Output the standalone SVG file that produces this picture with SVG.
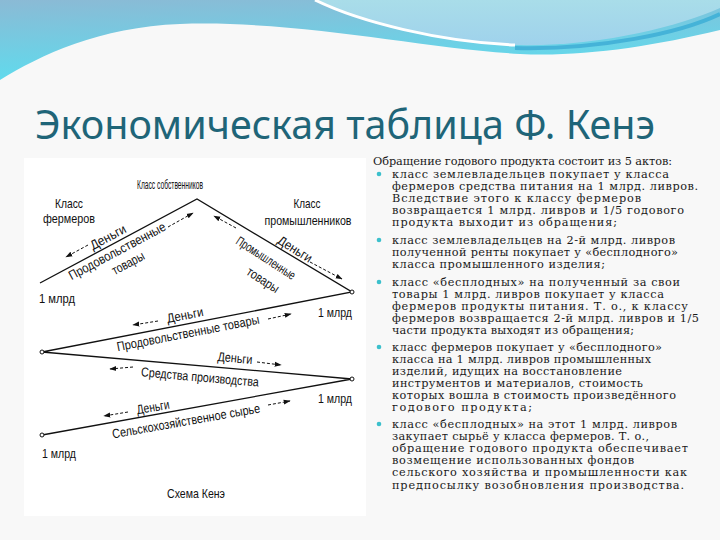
<svg xmlns="http://www.w3.org/2000/svg" width="720" height="540" viewBox="0 0 720 540">
<defs>
<linearGradient id="gBlue" x1="0" y1="0" x2="0.25" y2="1">
<stop offset="0" stop-color="#8bbad5"/>
<stop offset="1" stop-color="#5edcee"/>
</linearGradient>
<linearGradient id="gBubble" x1="0" y1="0" x2="0" y2="1">
<stop offset="0" stop-color="#a9dde9"/>
<stop offset="1" stop-color="#9fd2ec"/>
</linearGradient>
<marker id="ah" viewBox="0 0 10 10" refX="9" refY="5" markerWidth="7" markerHeight="7" orient="auto" markerUnits="userSpaceOnUse">
<path d="M0,1.5 L10,5 L0,8.5 Z" fill="#111"/>
</marker>
<style>
.lbl{font-family:"Liberation Sans Narrow","Liberation Sans",Arial,sans-serif;font-size:13px;fill:#111;text-anchor:middle}
.lbs{font-family:"Liberation Sans Narrow","Liberation Sans",Arial,sans-serif;font-size:13px;fill:#111}
.main{stroke:#111;stroke-width:1.3;fill:none}
.arr{stroke:#111;stroke-width:1;stroke-dasharray:3 2;fill:none;marker-end:url(#ah)}
.pt{fill:#fff;stroke:#111;stroke-width:1}
.txt{font-family:"DejaVu Serif","Liberation Serif",serif;font-size:11.3px;fill:#1a1a1a}
.bul{fill:#3cc0cc}
</style>
</defs>
<rect width="720" height="540" fill="#f8f8f8"/>
<g id="header">
<path d="M0,0 H720 V30 C650,47 580,57 520,54 C420,48 300,20 180,24 C100,27 40,55 0,80 Z" fill="url(#gBlue)"/>
<path d="M315,0 C360,22 440,42 515,45 C600,47 680,26 720,8 V0 Z" fill="url(#gBubble)"/>
<path d="M315,0 C360,22 440,42 515,45" stroke="#fff" stroke-width="3" fill="none"/>
<path d="M515,48 C600,50 680,33 720,14" stroke="#45b3d8" stroke-width="4" fill="none"/>
</g>
<text id="title" x="35" y="139" font-family="'Noto Sans','Open Sans',sans-serif" font-size="40" fill="#1f6578" textLength="620" lengthAdjust="spacingAndGlyphs">Экономическая таблица Ф. Кенэ</text>
<rect id="panel" x="24" y="158" width="342" height="358" fill="#ffffff"/>
<g id="connectors">
<path class="main" d="M40,283 L197,199 L352,292 L42,352 L352,379 L42,435"/>
<path class="arr" d="M88,245 L66,257"/>
<path class="arr" d="M168,227 L193,213"/>
<path class="arr" d="M236,228 L214,216"/>
<path class="arr" d="M310,262 L342,279"/>
<path class="arr" d="M158,321 L133,325"/>
<path class="arr" d="M268,319 L291,314"/>
<path class="arr" d="M257,362 L281,365"/>
<path class="arr" d="M133,367 L110,369"/>
<path class="arr" d="M128,412 L104,416"/>
<path class="arr" d="M268,405 L290,401"/>
<circle class="pt" cx="352" cy="292" r="2"/>
<circle class="pt" cx="42" cy="352" r="2"/>
<circle class="pt" cx="352" cy="379" r="2"/>
<circle class="pt" cx="42" cy="435" r="2"/>
</g>
<g id="owners"><text class="lbl" x="170" y="189" textLength="66" lengthAdjust="spacingAndGlyphs">Класс собственников</text></g>
<g id="farmers">
<text class="lbl" x="69" y="208" textLength="28" lengthAdjust="spacingAndGlyphs">Класс</text>
<text class="lbl" x="69" y="223" textLength="52" lengthAdjust="spacingAndGlyphs">фермеров</text>
</g>
<g id="industrialists">
<text class="lbl" x="307" y="208" textLength="27" lengthAdjust="spacingAndGlyphs">Класс</text>
<text class="lbl" x="308" y="225" textLength="87" lengthAdjust="spacingAndGlyphs">промышленников</text>
</g>
<g id="flow-labels">
<text class="lbl" transform="translate(108,237) rotate(-28)" y="4.5" textLength="39" lengthAdjust="spacingAndGlyphs">Деньги</text>
<text class="lbl" transform="translate(117,251) rotate(-28)" y="4.5" textLength="108" lengthAdjust="spacingAndGlyphs">Продовольственные</text>
<text class="lbl" transform="translate(128,263) rotate(-28)" y="4.5" textLength="35" lengthAdjust="spacingAndGlyphs">товары</text>
<text class="lbl" transform="translate(266,258) rotate(33)" y="4.5" textLength="68" lengthAdjust="spacingAndGlyphs">Промышленные</text>
<text class="lbl" transform="translate(263,280) rotate(33)" y="4.5" textLength="36" lengthAdjust="spacingAndGlyphs">товары</text>
<text class="lbl" transform="translate(295,249) rotate(32)" y="4.5" textLength="38" lengthAdjust="spacingAndGlyphs">Деньги</text>
<text class="lbl" transform="translate(185,315) rotate(-11)" y="4.5" textLength="37" lengthAdjust="spacingAndGlyphs">Деньги</text>
<text class="lbl" transform="translate(188,333) rotate(-11)" y="4.5" textLength="145" lengthAdjust="spacingAndGlyphs">Продовольственные товары</text>
<text class="lbl" transform="translate(235,358) rotate(5)" y="4.5" textLength="35" lengthAdjust="spacingAndGlyphs">Деньги</text>
<text class="lbl" transform="translate(200,377) rotate(5)" y="4.5" textLength="118" lengthAdjust="spacingAndGlyphs">Средства производства</text>
<text class="lbl" transform="translate(153,407) rotate(-10)" y="4.5" textLength="33" lengthAdjust="spacingAndGlyphs">Деньги</text>
<text class="lbl" transform="translate(186,421) rotate(-10)" y="4.5" textLength="150" lengthAdjust="spacingAndGlyphs">Сельскохозяйственное сырье</text>
</g>
<g id="amounts">
<text class="lbs" x="39" y="303" textLength="36" lengthAdjust="spacingAndGlyphs">1 млрд</text>
<text class="lbs" x="318" y="317" textLength="34" lengthAdjust="spacingAndGlyphs">1 млрд</text>
<text class="lbs" x="318" y="403" textLength="34" lengthAdjust="spacingAndGlyphs">1 млрд</text>
<text class="lbs" x="42" y="458" textLength="34" lengthAdjust="spacingAndGlyphs">1 млрд</text>
</g>
<g id="caption"><text class="lbl" x="196" y="498" textLength="58" lengthAdjust="spacingAndGlyphs">Схема Кенэ</text></g>
<g id="description">
<text class="txt" x="373" y="165" textLength="299">Обращение годового продукта состоит из 5 актов:</text>
<circle class="bul" cx="379" cy="174" r="2.3"/>
<text class="txt" x="392" y="178" textLength="277">класс землевладельцев покупает у класса</text>
<text class="txt" x="392" y="190" textLength="306">фермеров средства питания на 1 млрд. ливров.</text>
<text class="txt" x="392" y="202" textLength="249">Вследствие этого к классу фермеров</text>
<text class="txt" x="392" y="214" textLength="292">возвращается 1 млрд. ливров и 1/5 годового</text>
<text class="txt" x="392" y="226" textLength="225">продукта выходит из обращения;</text>
<circle class="bul" cx="379" cy="240" r="2.3"/>
<text class="txt" x="392" y="244" textLength="283">класс землевладельцев на 2-й млрд. ливров</text>
<text class="txt" x="392" y="256" textLength="286">полученной ренты покупает у «бесплодного»</text>
<text class="txt" x="392" y="268" textLength="213">класса промышленного изделия;</text>
<circle class="bul" cx="379" cy="282" r="2.3"/>
<text class="txt" x="392" y="286" textLength="288">класс «бесплодных» на полученный за свои</text>
<text class="txt" x="392" y="298" textLength="272">товары 1 млрд. ливров покупает у класса</text>
<text class="txt" x="392" y="310" textLength="296">фермеров продукты питания. Т. о., к классу</text>
<text class="txt" x="392" y="322" textLength="307">фермеров возвращается 2-й млрд. ливров и 1/5</text>
<text class="txt" x="392" y="334" textLength="242">части продукта выходят из обращения;</text>
<circle class="bul" cx="379" cy="347" r="2.3"/>
<text class="txt" x="392" y="351" textLength="270">класс фермеров покупает у «бесплодного»</text>
<text class="txt" x="392" y="363" textLength="259">класса на 1 млрд. ливров промышленных</text>
<text class="txt" x="392" y="375" textLength="230">изделий, идущих на восстановление</text>
<text class="txt" x="392" y="387" textLength="251">инструментов и материалов, стоимость</text>
<text class="txt" x="392" y="399" textLength="284">которых вошла в стоимость произведённого</text>
<text class="txt" x="392" y="411" textLength="140">годового продукта;</text>
<circle class="bul" cx="379" cy="424" r="2.3"/>
<text class="txt" x="392" y="428" textLength="285">класс «бесплодных» на этот 1 млрд. ливров</text>
<text class="txt" x="392" y="440" textLength="257">закупает сырьё у класса фермеров. Т. о.,</text>
<text class="txt" x="392" y="452" textLength="296">обращение годового продукта обеспечивает</text>
<text class="txt" x="392" y="464" textLength="242">возмещение использованных фондов</text>
<text class="txt" x="392" y="476" textLength="295">сельского хозяйства и промышленности как</text>
<text class="txt" x="392" y="489" textLength="292">предпосылку возобновления производства.</text>
</g>
</svg>
